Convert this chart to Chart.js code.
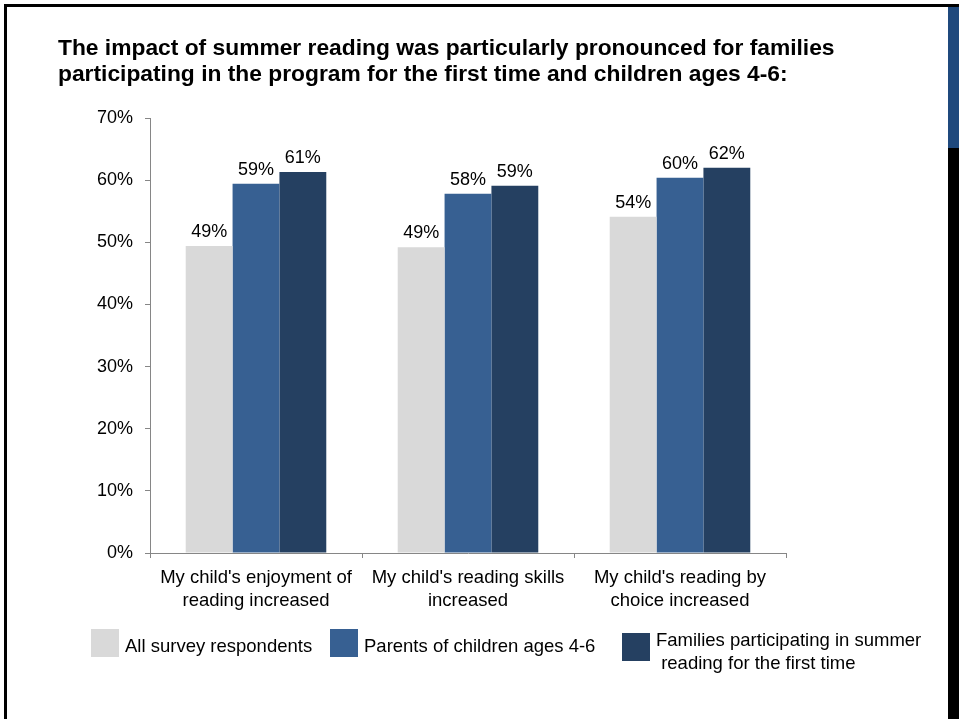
<!DOCTYPE html>
<html>
<head>
<meta charset="utf-8">
<script src="https://cdn.jsdelivr.net/npm/chart.js@4.4.1/dist/chart.umd.min.js"></script>
<style>
  html, body { margin: 0; padding: 0; background: #ffffff; }
  #wrap { position: relative; width: 959px; height: 719px; overflow: hidden; background: #ffffff; }
  #chart { position: absolute; left: 0; top: 0; }
  .frame-top { position: absolute; left: 4px; top: 4px; width: 955px; height: 3px; background: #000; }
  .frame-left { position: absolute; left: 4px; top: 4px; width: 3px; height: 715px; background: #000; }
  .side-dark { position: absolute; left: 948px; top: 4px; width: 11px; height: 715px; background: #000; }
  .side-blue { position: absolute; left: 948px; top: 7px; width: 11px; height: 141px; background: #1f497d; }
</style>
</head>
<body>
<div id="wrap">
  <canvas id="chart" width="959" height="719"></canvas>
  <div class="frame-top"></div>
  <div class="frame-left"></div>
  <div class="side-dark"></div>
  <div class="side-blue"></div>
</div>
<script>
// Survey outcomes, share of parents agreeing (%)
const titleLines = [
  'The impact of summer reading was particularly pronounced for families',
  'participating in the program for the first time and children ages 4-6:'
];
const categories = [
  ["My child's enjoyment of", 'reading increased'],
  ["My child's reading skills", 'increased'],
  ["My child's reading by", 'choice increased']
];
const seriesNames = [
  'All survey respondents',
  'Parents of children ages 4-6',
  ['Families participating in summer', ' reading for the first time']
];
const allRespondents = [49.4, 49.2, 54.1];
const parentsAges4to6 = [59.4, 57.8, 60.4];
const firstTimeFamilies = [61.3, 59.1, 62.0];
const seriesColors = ['#d9d9d9', '#376092', '#254061'];
const yTickMax = 70;
const yTickStep = 10;

const FONT = '"Liberation Sans", Arial, sans-serif';

// Two-line bold heading above the plot
const headingPlugin = {
  id: 'heading',
  afterDraw(chart) {
    const ctx = chart.ctx;
    ctx.save();
    ctx.fillStyle = '#000';
    ctx.font = 'bold 22.8px ' + FONT;
    ctx.textAlign = 'left';
    ctx.textBaseline = 'alphabetic';
    titleLines.forEach((line, i) => ctx.fillText(line, 58, 55 + i * 26));
    ctx.restore();
  }
};

// Percentage labels above each bar
const valueLabelPlugin = {
  id: 'valueLabels',
  afterDatasetsDraw(chart) {
    const ctx = chart.ctx;
    ctx.save();
    ctx.fillStyle = '#000';
    ctx.font = '18px ' + FONT;
    ctx.textAlign = 'center';
    ctx.textBaseline = 'alphabetic';
    chart.data.datasets.forEach((ds, i) => {
      chart.getDatasetMeta(i).data.forEach((bar, j) => {
        ctx.fillText(Math.round(ds.data[j]) + '%', bar.x, bar.y - 9);
      });
    });
    ctx.restore();
  }
};

// Legend row under the category labels
const legendPlugin = {
  id: 'bottomLegend',
  afterDraw(chart) {
    const ctx = chart.ctx;
    const items = [
      { x: 91, y: 629 },
      { x: 330, y: 629 },
      { x: 622, y: 633 }
    ];
    ctx.save();
    ctx.font = '18.5px ' + FONT;
    ctx.textAlign = 'left';
    ctx.textBaseline = 'alphabetic';
    chart.data.datasets.forEach((ds, i) => {
      const it = items[i];
      ctx.fillStyle = ds.backgroundColor;
      ctx.fillRect(it.x, it.y, 28, 28);
      ctx.fillStyle = '#000';
      const lines = Array.isArray(ds.label) ? ds.label : [ds.label];
      const base = lines.length > 1 ? 646 : 652;
      lines.forEach((t, k) => ctx.fillText(t, it.x + 34, base + k * 23));
    });
    ctx.restore();
  }
};

new Chart(document.getElementById('chart'), {
  type: 'bar',
  data: {
    labels: categories,
    datasets: [
      { label: seriesNames[0], data: allRespondents, backgroundColor: seriesColors[0] },
      { label: seriesNames[1], data: parentsAges4to6, backgroundColor: seriesColors[1] },
      { label: seriesNames[2], data: firstTimeFamilies, backgroundColor: seriesColors[2] }
    ]
  },
  options: {
    responsive: false,
    animation: false,
    devicePixelRatio: 1,
    layout: { padding: { left: 0, right: 173, top: 118, bottom: 0 } },
    datasets: { bar: { categoryPercentage: 0.663, barPercentage: 1.0 } },
    plugins: {
      legend: { display: false },
      title: { display: false },
      tooltip: { enabled: false }
    },
    scales: {
      x: {
        afterFit(scale) { scale.height = 166; },
        grid: { drawOnChartArea: false, drawTicks: true, tickLength: 5, color: '#868686', offset: true },
        border: { color: '#868686', width: 1 },
        ticks: {
          color: '#000',
          font: { family: FONT, size: 18.5, lineHeight: 1.22 },
          padding: 9,
          maxRotation: 0,
          autoSkip: false
        }
      },
      y: {
        min: 0,
        max: yTickMax,
        afterFit(scale) { scale.width = 150; },
        grid: { drawOnChartArea: false, drawTicks: true, tickLength: 5, color: '#868686' },
        border: { color: '#868686', width: 1 },
        ticks: {
          stepSize: yTickStep,
          color: '#000',
          font: { family: FONT, size: 18 },
          padding: 12,
          callback: v => v + '%'
        }
      }
    }
  },
  plugins: [headingPlugin, valueLabelPlugin, legendPlugin]
});
</script>
</body>
</html>
